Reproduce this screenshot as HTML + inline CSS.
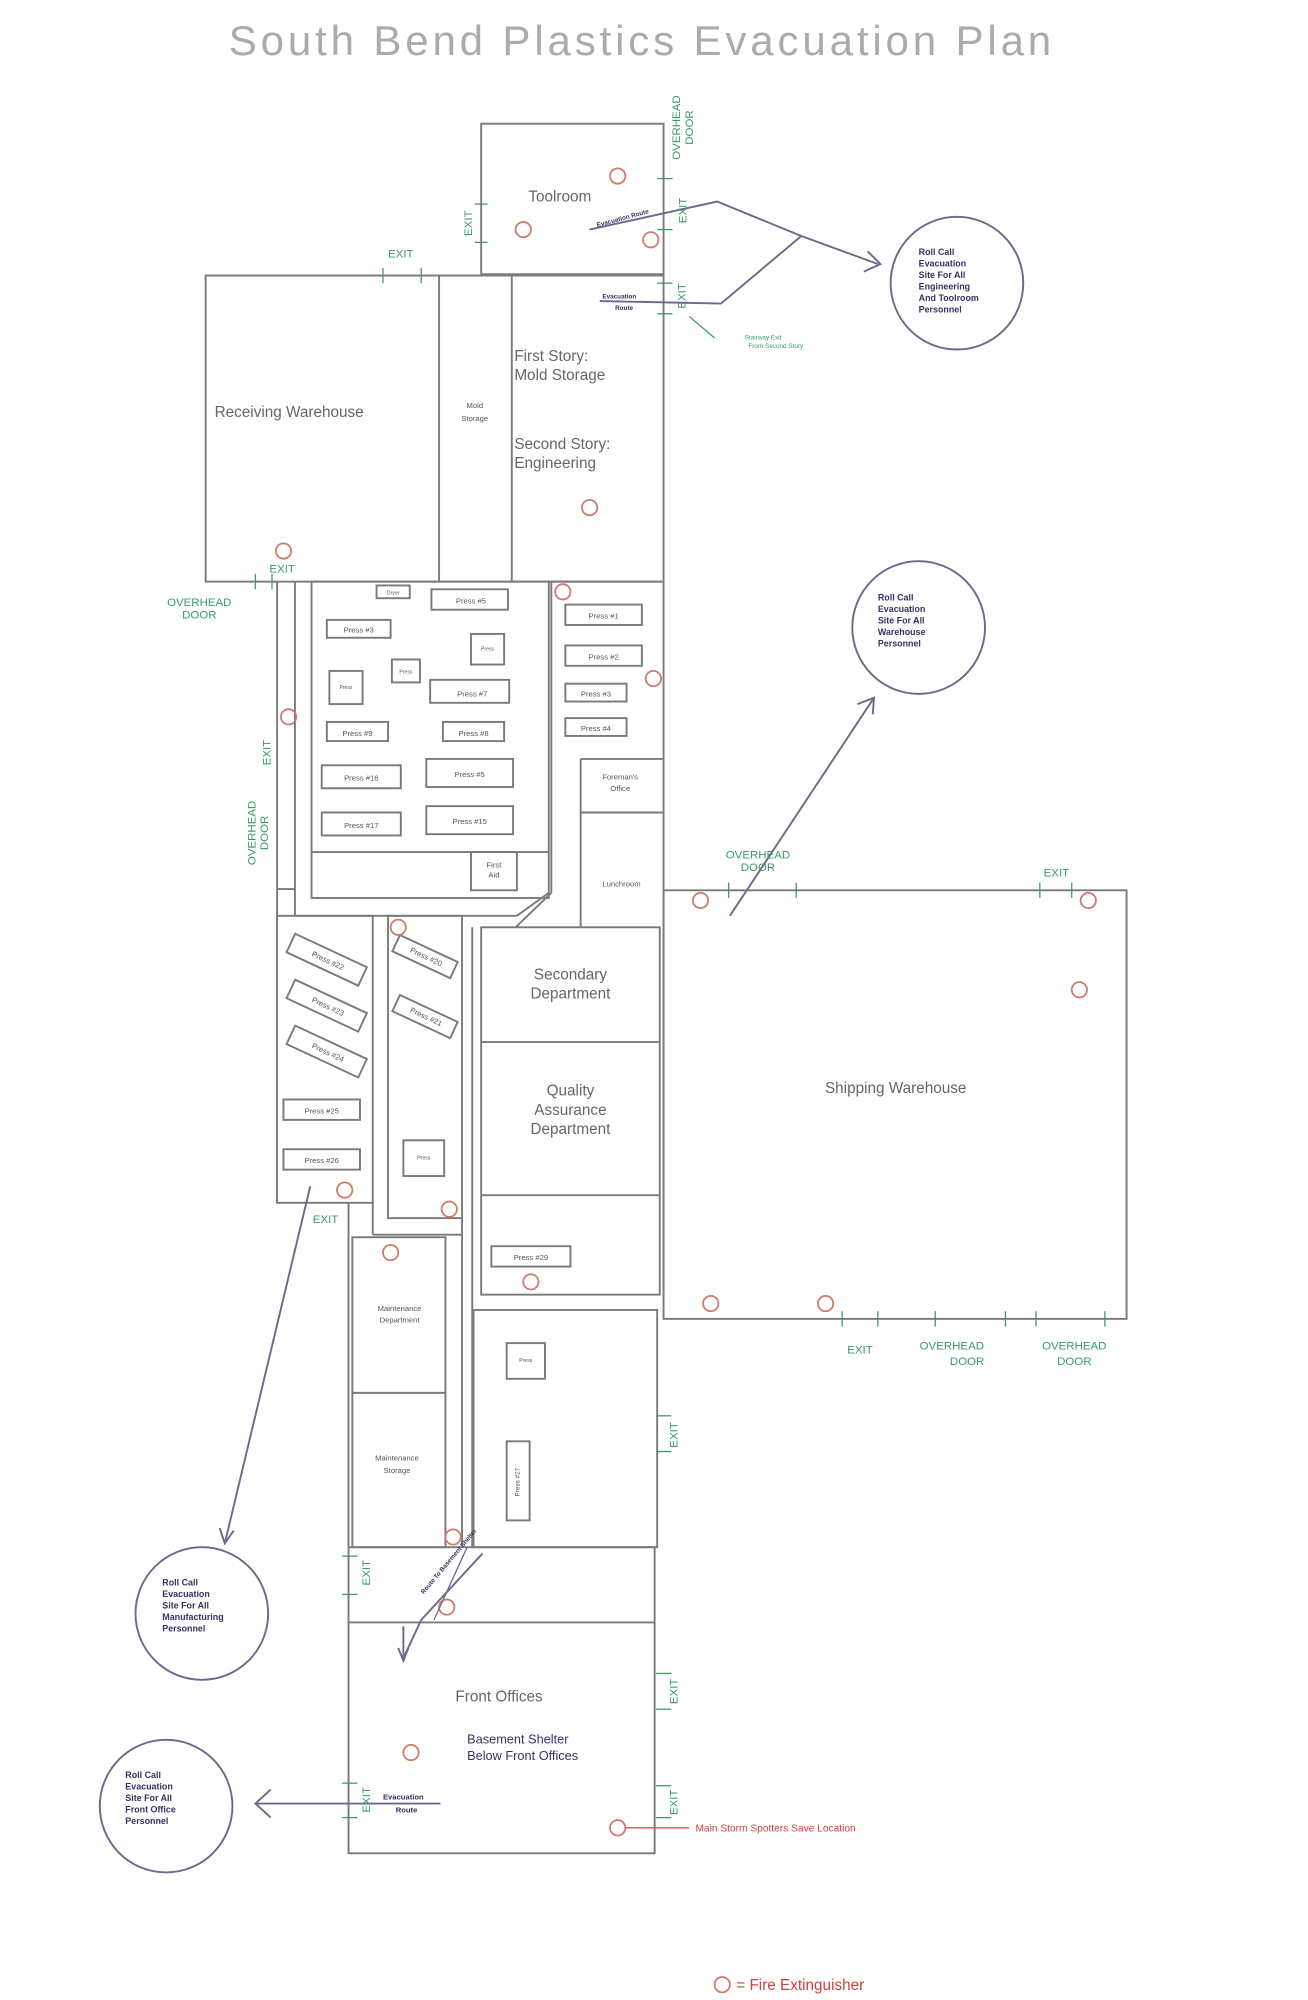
<!DOCTYPE html>
<html><head><meta charset="utf-8"><style>
html,body{margin:0;padding:0;background:#fff}
svg{display:block}
text{font-family:"Liberation Sans",sans-serif}
</style></head><body>
<svg width="1308" height="2000" viewBox="0 0 1025 1568" xmlns="http://www.w3.org/2000/svg">
<rect width="1025" height="1568" fill="#fff"/>
<text x="503" y="43" text-anchor="middle" font-size="33" fill="#ababab" letter-spacing="3">South Bend Plastics Evacuation Plan</text>
<g fill="none" stroke="#7a7a7a" stroke-width="1.5">
<rect x="377" y="97" width="143" height="118"/>
<rect x="161" y="216" width="359" height="240"/>
<line x1="344" y1="216" x2="344" y2="456"/><line x1="401" y1="216" x2="401" y2="456"/>
<line x1="520" y1="456" x2="520" y2="1015"/>
<line x1="217" y1="456" x2="217" y2="943"/><line x1="231" y1="456" x2="231" y2="718"/>
<line x1="217" y1="697" x2="231" y2="697"/>
<rect x="244" y="456" width="186" height="248"/>
<line x1="244" y1="668" x2="430" y2="668"/>
<line x1="231" y1="718" x2="405" y2="718"/><line x1="405" y1="718" x2="430" y2="700"/>
<line x1="432" y1="456" x2="432" y2="700"/><line x1="432" y1="700" x2="404" y2="727"/>
<line x1="432" y1="456" x2="520" y2="456"/>
<line x1="455" y1="595" x2="520" y2="595"/><line x1="455" y1="595" x2="455" y2="727"/>
<line x1="455" y1="637" x2="520" y2="637"/>
<rect x="377" y="727" width="140" height="288"/>
<line x1="377" y1="817" x2="517" y2="817"/><line x1="377" y1="937" x2="517" y2="937"/>
<line x1="370" y1="727" x2="370" y2="1213"/>
<rect x="217" y="718" width="75" height="225"/>
<line x1="292" y1="943" x2="292" y2="968"/><line x1="292" y1="968" x2="362" y2="968"/>
<rect x="304" y="718" width="58" height="237"/>
<rect x="520" y="698" width="363" height="336"/>
<rect x="276" y="970" width="73" height="243"/>
<line x1="276" y1="1092" x2="349" y2="1092"/>
<line x1="273" y1="943" x2="273" y2="1213"/>
<rect x="371" y="1027" width="144" height="186"/>
<rect x="273" y="1213" width="240" height="240"/>
<line x1="273" y1="1272" x2="513" y2="1272"/>
<line x1="362" y1="955" x2="362" y2="1213"/>
<rect x="295" y="459" width="26" height="10"/>
<rect x="338" y="462" width="60" height="16"/>
<rect x="256" y="486" width="50" height="14"/>
<rect x="369" y="497" width="26" height="24"/>
<rect x="307" y="517" width="22" height="18"/>
<rect x="258" y="526" width="26" height="26"/>
<rect x="337" y="533" width="62" height="18"/>
<rect x="256" y="566" width="48" height="15"/>
<rect x="347" y="566" width="48" height="15"/>
<rect x="252" y="600" width="62" height="18"/>
<rect x="334" y="595" width="68" height="22"/>
<rect x="252" y="637" width="62" height="18"/>
<rect x="334" y="632" width="68" height="22"/>
<rect x="369" y="668" width="36" height="30"/>
<rect x="443" y="474" width="60" height="16"/>
<rect x="443" y="506" width="60" height="16"/>
<rect x="443" y="536" width="48" height="14"/>
<rect x="443" y="563" width="48" height="14"/>
<rect x="222" y="862" width="60" height="16"/>
<rect x="222" y="901" width="60" height="16"/>
<rect x="316" y="894" width="32" height="28"/>
<rect x="385" y="977" width="62" height="16"/>
<rect x="397" y="1053" width="30" height="28"/>
<rect x="397" y="1130" width="18" height="62"/>
<g transform="rotate(25 255 752)"><rect x="225" y="744" width="62" height="16"/></g>
<g transform="rotate(25 255 788)"><rect x="225" y="780" width="62" height="16"/></g>
<g transform="rotate(25 255 824)"><rect x="225" y="816" width="62" height="16"/></g>
<g transform="rotate(25 333 750)"><rect x="308" y="743" width="50" height="14"/></g>
<g transform="rotate(25 333 797)"><rect x="308" y="790" width="50" height="14"/></g>
</g>
<g font-size="6" fill="#555" text-anchor="middle">
<text x="369" y="473">Press #5</text><text x="281" y="496">Press #3</text><text x="370" y="546">Press #7</text>
<text x="280" y="577">Press #9</text><text x="371" y="577">Press #8</text><text x="283" y="612">Press #16</text>
<text x="368" y="609">Press #5</text><text x="283" y="649">Press #17</text><text x="368" y="646">Press #15</text>
<text x="473" y="485">Press #1</text><text x="473" y="517">Press #2</text><text x="467" y="546">Press #3</text>
<text x="467" y="573">Press #4</text><text x="252" y="873">Press #25</text><text x="252" y="912">Press #26</text>
<text x="416" y="988">Press #29</text><text x="372" y="320">Mold</text><text x="372" y="330">Storage</text>
<text x="486" y="611">Foreman's</text><text x="486" y="620">Office</text><text x="487" y="695">Lunchroom</text>
<text x="387" y="680">First</text><text x="387" y="688">Aid</text>
<text x="308" y="466" font-size="4">Dryer</text>
<text x="382" y="510" font-size="4">Press</text><text x="318" y="528" font-size="4">Press</text>
<text x="271" y="540" font-size="4">Press</text><text x="332" y="909" font-size="4">Press</text>
<text x="412" y="1068" font-size="4">Press</text>
<text transform="translate(407 1162) rotate(-90)" font-size="5">Press #27</text>
<text transform="translate(256 755) rotate(25)">Press #22</text>
<text transform="translate(256 791) rotate(25)">Press #23</text>
<text transform="translate(256 827) rotate(25)">Press #24</text>
<text transform="translate(333 752) rotate(25)">Press #20</text>
<text transform="translate(333 799) rotate(25)">Press #21</text>
<text x="313" y="1028">Maintenance</text><text x="313" y="1037">Department</text>
<text x="311" y="1145">Maintenance</text><text x="311" y="1155">Storage</text>
</g>
<g font-size="12" fill="#666">
<text x="414" y="158">Toolroom</text>
<text x="168" y="327">Receiving Warehouse</text>
<text x="403" y="283">First Story:</text><text x="403" y="298">Mold Storage</text>
<text x="403" y="352">Second Story:</text><text x="403" y="367">Engineering</text>
<text x="447" y="768" text-anchor="middle">Secondary</text><text x="447" y="783" text-anchor="middle">Department</text>
<text x="447" y="859" text-anchor="middle">Quality</text><text x="447" y="874" text-anchor="middle">Assurance</text><text x="447" y="889" text-anchor="middle">Department</text>
<text x="702" y="857" text-anchor="middle">Shipping Warehouse</text>
<text x="391" y="1334" text-anchor="middle">Front Offices</text>
</g>
<g font-size="10" fill="#336">
<text x="366" y="1367">Basement Shelter</text><text x="366" y="1380">Below Front Offices</text>
</g>
<g font-size="9" fill="#3a9a6a" text-anchor="middle">
<text x="314" y="202">EXIT</text><text x="221" y="449">EXIT</text>
<text x="156" y="475">OVERHEAD</text><text x="156" y="485">DOOR</text>
<text x="255" y="959">EXIT</text>
<text x="594" y="673">OVERHEAD</text><text x="594" y="683">DOOR</text><text x="828" y="687">EXIT</text>
<text x="674" y="1061">EXIT</text><text x="746" y="1058">OVERHEAD</text><text x="758" y="1070">DOOR</text>
<text x="842" y="1058">OVERHEAD</text><text x="842" y="1070">DOOR</text>
<text x="598" y="266" font-size="5">Stairway Exit</text><text x="608" y="273" font-size="5">From Second Story</text>
<text transform="translate(370 175) rotate(-90)">EXIT</text>
<text transform="translate(538 165) rotate(-90)">EXIT</text>
<text transform="translate(537 232) rotate(-90)">EXIT</text>
<text transform="translate(533 100) rotate(-90)">OVERHEAD</text><text transform="translate(543 100) rotate(-90)">DOOR</text>
<text transform="translate(212 590) rotate(-90)">EXIT</text>
<text transform="translate(200 653) rotate(-90)">OVERHEAD</text><text transform="translate(210 653) rotate(-90)">DOOR</text>
<text transform="translate(531 1125) rotate(-90)">EXIT</text>
<text transform="translate(290 1233) rotate(-90)">EXIT</text>
<text transform="translate(531 1326) rotate(-90)">EXIT</text>
<text transform="translate(290 1411) rotate(-90)">EXIT</text>
<text transform="translate(531 1413) rotate(-90)">EXIT</text>
</g>
<g stroke="#3a9a6a" stroke-width="1">
<line x1="300" y1="210" x2="300" y2="222"/><line x1="330" y1="210" x2="330" y2="222"/>
<line x1="200" y1="450" x2="200" y2="462"/><line x1="213" y1="450" x2="213" y2="462"/>
<line x1="571" y1="692" x2="571" y2="704"/><line x1="624" y1="692" x2="624" y2="704"/>
<line x1="815" y1="692" x2="815" y2="704"/><line x1="840" y1="692" x2="840" y2="704"/>
<line x1="660" y1="1028" x2="660" y2="1040"/><line x1="688" y1="1028" x2="688" y2="1040"/>
<line x1="733" y1="1028" x2="733" y2="1040"/><line x1="788" y1="1028" x2="788" y2="1040"/>
<line x1="812" y1="1028" x2="812" y2="1040"/><line x1="866" y1="1028" x2="866" y2="1040"/>
<line x1="514" y1="1110" x2="526" y2="1110"/><line x1="514" y1="1138" x2="526" y2="1138"/>
<line x1="268" y1="1220" x2="280" y2="1220"/><line x1="268" y1="1250" x2="280" y2="1250"/>
<line x1="514" y1="1312" x2="526" y2="1312"/><line x1="514" y1="1340" x2="526" y2="1340"/>
<line x1="268" y1="1398" x2="280" y2="1398"/><line x1="268" y1="1425" x2="280" y2="1425"/>
<line x1="514" y1="1400" x2="526" y2="1400"/><line x1="514" y1="1425" x2="526" y2="1425"/>
<line x1="540" y1="248" x2="560" y2="265"/>
<line x1="515" y1="140" x2="527" y2="140"/><line x1="515" y1="180" x2="527" y2="180"/>
<line x1="515" y1="222" x2="527" y2="222"/><line x1="515" y1="246" x2="527" y2="246"/>
<line x1="372" y1="160" x2="382" y2="160"/><line x1="372" y1="190" x2="382" y2="190"/>
</g>
<g fill="none" stroke="#d07a6a" stroke-width="1.4">
<circle cx="484" cy="138" r="6"/><circle cx="410" cy="180" r="6"/><circle cx="510" cy="188" r="6"/>
<circle cx="462" cy="398" r="6"/><circle cx="222" cy="432" r="6"/><circle cx="441" cy="464" r="6"/>
<circle cx="512" cy="532" r="6"/><circle cx="226" cy="562" r="6"/><circle cx="312" cy="727" r="6"/>
<circle cx="549" cy="706" r="6"/><circle cx="853" cy="706" r="6"/><circle cx="846" cy="776" r="6"/>
<circle cx="270" cy="933" r="6"/><circle cx="352" cy="948" r="6"/><circle cx="306" cy="982" r="6"/>
<circle cx="416" cy="1005" r="6"/><circle cx="557" cy="1022" r="6"/><circle cx="647" cy="1022" r="6"/>
<circle cx="355" cy="1205" r="6"/><circle cx="350" cy="1260" r="6"/><circle cx="322" cy="1374" r="6"/>
<circle cx="484" cy="1433" r="6"/><circle cx="566" cy="1556" r="6"/>
</g>
<line x1="490" y1="1433" x2="540" y2="1433" stroke="#d05050" stroke-width="1"/>
<text x="545" y="1436" font-size="8" fill="#d04040">Main Storm Spotters Save Location</text>
<text x="577" y="1560" font-size="12" fill="#d04040">= Fire Extinguisher</text>
<g fill="none" stroke="#6a6a8a" stroke-width="1.5">
<polyline points="462,180 562,158 628,185 688,207"/><polyline points="680,197 690,207 677,213"/>
<polyline points="470,236 565,238 628,185"/>
<line x1="572" y1="718" x2="685" y2="547"/><polyline points="672,552 685,547 684,560"/>
<line x1="243" y1="930" x2="176" y2="1210"/><polyline points="172,1198 176,1210 183,1200"/>
<polyline points="378,1218 330,1270 316,1300"/><line x1="316" y1="1275" x2="316" y2="1302"/><polyline points="312,1292 316,1302 320,1292"/>
<line x1="200" y1="1414" x2="345" y2="1414"/><polyline points="212,1403 200,1414 212,1425"/>
<line x1="366" y1="1213" x2="340" y2="1270" stroke-width="1"/>
<circle cx="750" cy="222" r="52"/><circle cx="720" cy="492" r="52"/>
<circle cx="158" cy="1265" r="52"/><circle cx="130" cy="1416" r="52"/>
</g>
<g font-size="7" fill="#336" font-weight="bold">
<text x="720" y="200">Roll Call</text><text x="720" y="209">Evacuation</text><text x="720" y="218">Site For All</text><text x="720" y="227">Engineering</text><text x="720" y="236">And Toolroom</text><text x="720" y="245">Personnel</text>
<text x="688" y="471">Roll Call</text><text x="688" y="480">Evacuation</text><text x="688" y="489">Site For All</text><text x="688" y="498">Warehouse</text><text x="688" y="507">Personnel</text>
<text x="127" y="1243">Roll Call</text><text x="127" y="1252">Evacuation</text><text x="127" y="1261">Site For All</text><text x="127" y="1270">Manufacturing</text><text x="127" y="1279">Personnel</text>
<text x="98" y="1394">Roll Call</text><text x="98" y="1403">Evacuation</text><text x="98" y="1412">Site For All</text><text x="98" y="1421">Front Office</text><text x="98" y="1430">Personnel</text>
<text x="300" y="1411" font-size="6">Evacuation</text><text x="310" y="1421" font-size="6">Route</text>
<text x="472" y="234" font-size="5">Evacuation</text><text x="482" y="243" font-size="5">Route</text>
<text transform="translate(468 178) rotate(-15)" font-size="5">Evacuation Route</text>
<text transform="translate(332 1250) rotate(-50)" font-size="5">Route To Basement Shelter</text>
</g>
</svg>
</body></html>
